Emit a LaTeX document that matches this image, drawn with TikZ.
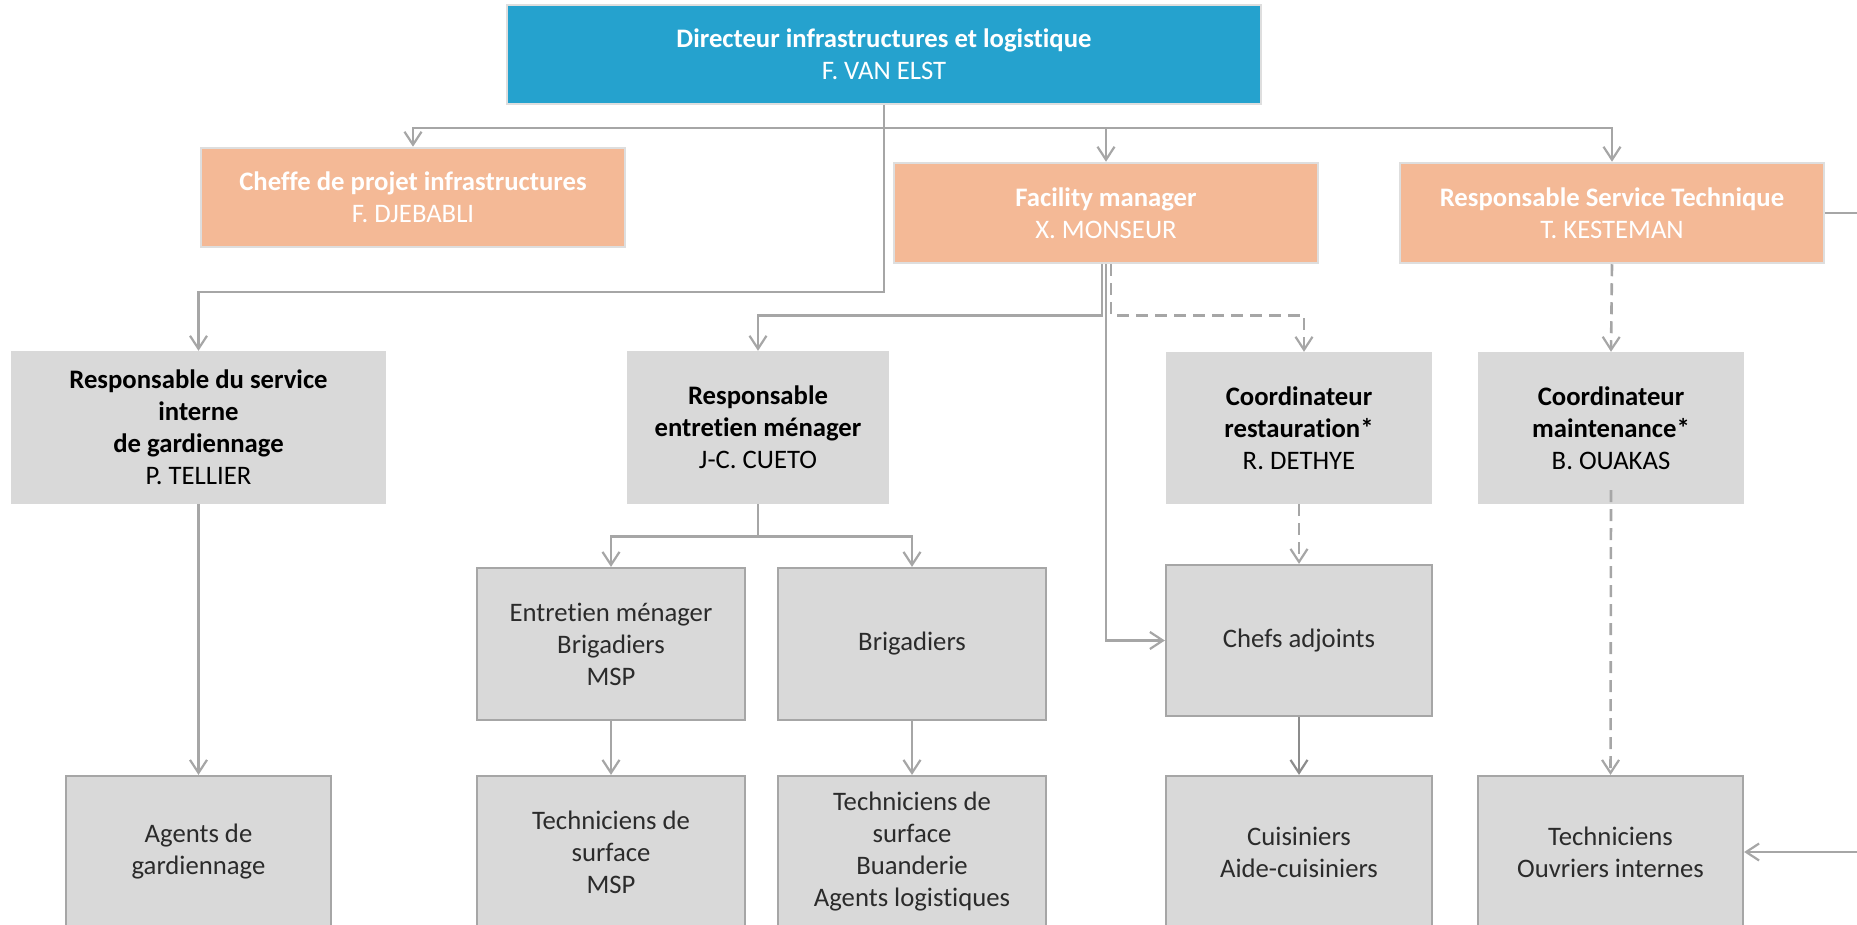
\documentclass[tikz,border=0pt]{standalone}
\usepackage{fontspec}
\setmainfont[Ligatures={NoCommon}]{Carlito}
\usetikzlibrary{arrows.meta}
\definecolor{dirblue}{HTML}{25A2CE}
\definecolor{salmon}{HTML}{F4B996}
\definecolor{boxgray}{HTML}{D9D9D9}
\definecolor{linegray}{HTML}{A6A6A6}
\definecolor{darkline}{HTML}{8C8C8C}
\definecolor{lightborder}{HTML}{DEDEDE}
\definecolor{txtgray}{HTML}{2B2B2B}
\tikzset{
  x=1pt, y=-1pt,
  base/.style={rectangle, inner sep=0pt, align=center, font=\fontsize{26.7}{32}\selectfont},
  topbox/.style={base, fill=salmon, draw=lightborder, line width=2.5pt, text=white},
  dirbox/.style={base, fill=dirblue, draw=lightborder, line width=2.5pt, text=white},
  midbox/.style={base, fill=boxgray, text=black},
  lowbox/.style={base, fill=boxgray, draw=linegray, line width=2.2pt, text=txtgray},
  conn/.style={draw=linegray, line width=2.6pt},
  arr/.style={conn, -{Straight Barb[length=13pt,width=17pt,line width=2.2pt]}},
  dashedarr/.style={arr, dash pattern=on 12pt off 7pt},
}
\begin{document}
\begin{tikzpicture}
\useasboundingbox (0,0) rectangle (1857,925);
\clip (0,0) rectangle (1857,925);
% top
\node[dirbox, minimum width=754pt, minimum height=99pt] (dir) at (884,54.5)
  {\textbf{Directeur infrastructures et logistique}\\F. VAN ELST};
\node[topbox, minimum width=424pt, minimum height=99pt] (cheffe) at (413,197.5)
  {\textbf{Cheffe de projet infrastructures}\\F. DJEBABLI};
\node[topbox, minimum width=424pt, minimum height=100pt] (fac) at (1106,213)
  {\textbf{Facility manager}\\X. MONSEUR};
\node[topbox, minimum width=424pt, minimum height=100pt] (rst) at (1612,213)
  {\textbf{Responsable Service Technique}\\T. KESTEMAN};
% row 2
\node[midbox, minimum width=375pt, minimum height=153pt] (gard) at (198.5,427.5)
  {\textbf{Responsable du service}\\\textbf{interne}\\\textbf{de gardiennage}\\P. TELLIER};
\node[midbox, minimum width=262pt, minimum height=153pt] (ent) at (758,427.5)
  {\textbf{Responsable}\\\textbf{entretien ménager}\\J-C. CUETO};
\node[midbox, minimum width=266pt, minimum height=152pt] (rest) at (1299,428)
  {\textbf{Coordinateur}\\\textbf{restauration*}\\R. DETHYE};
\node[midbox, minimum width=266pt, minimum height=152pt] (maint) at (1611,428)
  {\textbf{Coordinateur}\\\textbf{maintenance*}\\B. OUAKAS};
% row 3
\node[lowbox, minimum width=268pt, minimum height=152pt] (em) at (611,644)
  {Entretien ménager\\Brigadiers\\MSP};
\node[lowbox, minimum width=268pt, minimum height=152pt] (brig) at (912,644)
  {Brigadiers};
\node[lowbox, minimum width=266pt, minimum height=151pt] (chefs) at (1299,640.5)
  {Chefs adjoints};
% row 4
\node[lowbox, minimum width=265pt, minimum height=152pt] (agents) at (198.5,852)
  {Agents de\\gardiennage};
\node[lowbox, minimum width=268pt, minimum height=152pt] (tmsp) at (611,852)
  {Techniciens de\\surface\\MSP};
\node[lowbox, minimum width=268pt, minimum height=152pt] (tbuan) at (912,852)
  {Techniciens de\\surface\\Buanderie\\Agents logistiques};
\node[lowbox, minimum width=266pt, minimum height=152pt] (cuis) at (1299,852)
  {Cuisiniers\\Aide-cuisiniers};
\node[lowbox, minimum width=265pt, minimum height=152pt] (tech) at (1610.5,852)
  {Techniciens\\Ouvriers internes};
% bus coordinates
\coordinate (bus) at (884,128);
\coordinate (bus2) at (884,292);
\coordinate (rside) at (1875,213);
% connectors from director
\draw[arr] (dir.south) -- (bus) -| (cheffe.north);
\draw[arr] (dir.south) -- (bus) -| (fac.north);
\draw[arr] (dir.south) -- (bus) -| (rst.north);
\draw[arr] (dir.south) -- (bus2) -| (gard.north);
% facility manager
\draw[arr] ([xshift=-4pt]fac.south) -- ++(0,51) -| (ent.north);
\draw[arr] (fac.south) |- (chefs.west);
\draw[dashedarr] ([xshift=5pt]fac.south) -- ++(0,51) -| ([xshift=5pt]rest.north);
\draw[dashedarr] (rest.south) -- (chefs.north);
\draw[arr, draw=darkline] (chefs.south) -- (cuis.north);
% responsable service technique
\draw[dashedarr] (rst.south) -- (maint.north);
\draw[dashedarr] ([yshift=14pt]maint.south) -- (tech.north);
\draw[arr] (rst.east) -- (rside) |- (tech.east);
% gardiennage
\draw[arr] (gard.south) -- (agents.north);
% entretien
\draw[arr] (ent.south) -- ++(0,32) -| (em.north);
\draw[arr] (ent.south) -- ++(0,32) -| (brig.north);
\draw[arr] (em.south) -- (tmsp.north);
\draw[arr] (brig.south) -- (tbuan.north);
\end{tikzpicture}
\end{document}
